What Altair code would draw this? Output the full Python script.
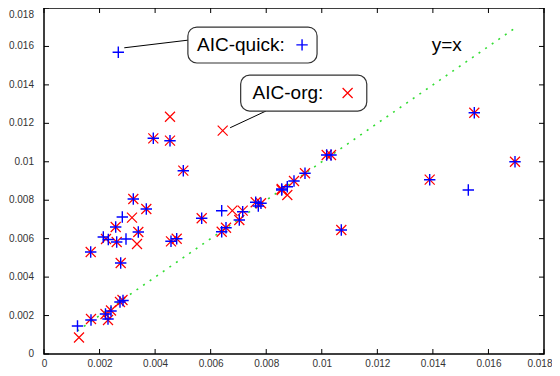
import altair as alt
import pandas as pd

# AIC-quick (blue +)
quick_x = [0.002675, 0.001206, 0.001692, 0.002214, 0.002304, 0.002412, 0.002736, 0.002844,
           0.001681, 0.002761, 0.002135, 0.002315, 0.002617, 0.002952, 0.002581, 0.003395,
           0.002819, 0.003215, 0.003683, 0.003935, 0.004536, 0.005015, 0.004572, 0.004777,
           0.005677, 0.006397, 0.007153, 0.007031, 0.006397, 0.006552, 0.007621, 0.007812,
           0.007715, 0.008557, 0.008759, 0.009000, 0.009396, 0.010177, 0.010332, 0.010703,
           0.013885, 0.015275, 0.015491, 0.016956, 0.008557]
quick_y = [0.015695, 0.001457, 0.001769, 0.002081, 0.001821, 0.002237, 0.002705, 0.002783,
           0.005306, 0.004734, 0.006087, 0.005957, 0.005827, 0.005983, 0.006607, 0.006347,
           0.007127, 0.008063, 0.007543, 0.011221, 0.011097, 0.009536, 0.005863, 0.005998,
           0.007060, 0.007455, 0.007403, 0.006971, 0.006362, 0.006570, 0.007892, 0.007840,
           0.007700, 0.008584, 0.008703, 0.009000, 0.009401, 0.010353, 0.010353, 0.006451,
           0.009068, 0.008532, 0.012553, 0.010004, 0.008532]

# AIC-org (red x)
org_x = [0.001260, 0.001692, 0.002214, 0.002304, 0.002412, 0.002736, 0.002826, 0.001681,
         0.002761, 0.002232, 0.002617, 0.003348, 0.002581, 0.003395, 0.003168, 0.003215,
         0.003683, 0.003935, 0.004536, 0.004536, 0.006433, 0.005015, 0.004572, 0.004777,
         0.005677, 0.006779, 0.007153, 0.007031, 0.006397, 0.006552, 0.007621, 0.007812,
         0.008759, 0.008557, 0.009000, 0.009396, 0.010177, 0.010332, 0.010703, 0.013885,
         0.015491, 0.016956, 0.008557]
org_y = [0.000858, 0.001821, 0.002081, 0.001769, 0.002263, 0.002705, 0.002809, 0.005306,
         0.004734, 0.005983, 0.005827, 0.005723, 0.006607, 0.006347, 0.007091, 0.008063,
         0.007543, 0.011221, 0.011097, 0.012345, 0.011617, 0.009536, 0.005863, 0.005998,
         0.007060, 0.007455, 0.007455, 0.006971, 0.006362, 0.006570, 0.007892, 0.007840,
         0.008272, 0.008584, 0.009000, 0.009401, 0.010353, 0.010353, 0.006451, 0.009068,
         0.012553, 0.010004, 0.008532]

ref_line = [0.0012, 0.0169]
tick_vals = [0, 0.002, 0.004, 0.006, 0.008, 0.01, 0.012, 0.014, 0.016, 0.018]
tick_labels = ["0", "0.002", "0.004", "0.006", "0.008", "0.01", "0.012", "0.014", "0.016", "0.018"]

# annotation layout (data units)
box_x = [0.00518, 0.00708]
box_x2 = [0.00983, 0.01162]
box_y = [0.01701, 0.01451]
box_y2 = [0.01514, 0.01264]
label_text = ["AIC-quick:", "AIC-org:", "y=x"]
label_x = [0.00551, 0.00751, 0.01396]
label_y = [0.01608, 0.01358, 0.01605]
sym_x = [0.00929, 0.01093]
sym_y = [0.01608, 0.01358]
lead_x = [0.00289, 0.00670]
lead_y = [0.01593, 0.01177]
lead_x2 = [0.00520, 0.00799]
lead_y2 = [0.01633, 0.01264]

W, H = 500, 346
PLUS = "M-1,0L1,0M0,-1L0,1"
CROSS = "M-1,-1L1,1M-1,1L1,-1"
FONT = "Liberation Sans"
LAST = "datum.value >= 0.0179"

xs = alt.Scale(domain=[0, 0.018], nice=False, zero=False)
ys = alt.Scale(domain=[0, 0.018], nice=False, zero=False)

xaxis = alt.Axis(values=tick_vals, labelExpr="'' + datum.value", ticks=False, domain=False,
                 grid=False, title=None, labelFont=FONT, labelFontSize=10, labelColor="#333",
                 labelPadding=4, labelFlush=False, labelOverlap=False, labelBound=False,
                 labelAlign={"condition": {"test": LAST, "value": "right"}, "value": "center"},
                 labelOffset={"condition": {"test": LAST, "value": 8}, "value": 0})
NOAX = None

qdf = pd.DataFrame({"x": quick_x, "y": quick_y})
odf = pd.DataFrame({"x": org_x, "y": org_y})
ldf = pd.DataFrame({"x": ref_line, "y": ref_line})
tdf = pd.DataFrame({"t": tick_vals, "lab": tick_labels})

line = alt.Chart(ldf).mark_line(color="#33dd33", strokeDash=[2, 6], strokeWidth=1.6).encode(
    x=alt.X("x:Q", scale=xs, axis=xaxis), y=alt.Y("y:Q", scale=ys, axis=NOAX))

org = alt.Chart(odf).mark_point(shape=CROSS, size=100, color="#ff0000", filled=False,
                                strokeWidth=1.2, opacity=1).encode(
    x=alt.X("x:Q", scale=xs), y=alt.Y("y:Q", scale=ys, axis=NOAX))

quick = alt.Chart(qdf).mark_point(shape=PLUS, size=130, color="#0000ff", filled=False,
                                  strokeWidth=1.4, opacity=1).encode(
    x=alt.X("x:Q", scale=xs), y=alt.Y("y:Q", scale=ys, axis=NOAX))

leads = alt.Chart(pd.DataFrame({"x": lead_x, "y": lead_y, "x2": lead_x2, "y2": lead_y2})).mark_rule(
    color="black", strokeWidth=1).encode(
    x=alt.X("x:Q", scale=xs), y=alt.Y("y:Q", scale=ys, axis=NOAX), x2="x2:Q", y2="y2:Q")

boxes = alt.Chart(pd.DataFrame({"x": box_x, "x2": box_x2, "y": box_y, "y2": box_y2})).mark_rect(
    fill="white", stroke="#333", strokeWidth=1.2, cornerRadius=9).encode(
    x=alt.X("x:Q", scale=xs), x2="x2:Q", y=alt.Y("y:Q", scale=ys, axis=NOAX), y2="y2:Q")

texts = alt.Chart(pd.DataFrame({"x": label_x, "y": label_y, "t": label_text})).mark_text(
    align="left", baseline="middle", font=FONT, fontSize=19, color="black").encode(
    x=alt.X("x:Q", scale=xs), y=alt.Y("y:Q", scale=ys, axis=NOAX), text="t:N")

sym_q = alt.Chart(pd.DataFrame({"x": sym_x[:1], "y": sym_y[:1]})).mark_point(
    shape=PLUS, size=130, color="#0000ff", filled=False, strokeWidth=1.4, opacity=1).encode(
    x=alt.X("x:Q", scale=xs), y=alt.Y("y:Q", scale=ys, axis=NOAX))
sym_o = alt.Chart(pd.DataFrame({"x": sym_x[1:], "y": sym_y[1:]})).mark_point(
    shape=CROSS, size=100, color="#ff0000", filled=False, strokeWidth=1.2, opacity=1).encode(
    x=alt.X("x:Q", scale=xs), y=alt.Y("y:Q", scale=ys, axis=NOAX))

TL = 5
tick_b = alt.Chart(tdf).mark_rule(color="black", strokeWidth=1).encode(
    x=alt.X("t:Q", scale=xs), y=alt.value(H), y2=alt.value(H - TL))
tick_t = alt.Chart(tdf).mark_rule(color="black", strokeWidth=1).encode(
    x=alt.X("t:Q", scale=xs), y=alt.value(0), y2=alt.value(TL))
tick_l = alt.Chart(tdf).mark_rule(color="black", strokeWidth=1).encode(
    y=alt.Y("t:Q", scale=ys, axis=NOAX), x=alt.value(0), x2=alt.value(TL))
tick_r = alt.Chart(tdf).mark_rule(color="black", strokeWidth=1).encode(
    y=alt.Y("t:Q", scale=ys, axis=NOAX), x=alt.value(W), x2=alt.value(W - TL))

# y tick labels as text (last one hangs below the top edge so it is not clipped)
ylab = alt.Chart(tdf).transform_filter("datum.t < 0.0179").mark_text(
    align="right", baseline="middle", font=FONT, fontSize=10, color="#333").encode(
    y=alt.Y("t:Q", scale=ys, axis=NOAX), x=alt.value(-10), text="lab:N")
ylab_top = alt.Chart(tdf).transform_filter("datum.t >= 0.0179").mark_text(
    align="right", baseline="top", dy=2, font=FONT, fontSize=10, color="#333").encode(
    y=alt.Y("t:Q", scale=ys, axis=NOAX), x=alt.value(-10), text="lab:N")

chart = alt.layer(line, org, quick, leads, boxes, texts, sym_q, sym_o,
                  tick_b, tick_t, tick_l, tick_r, ylab, ylab_top).properties(
    width=W, height=H, autosize=alt.AutoSizeParams(type="none"),
    padding={"left": 36, "top": 0, "right": 8, "bottom": 14},
    background="white",
).configure_view(stroke="black", strokeWidth=1.5)

chart.save("out.html", embed_options={"renderer": "svg", "actions": False})
